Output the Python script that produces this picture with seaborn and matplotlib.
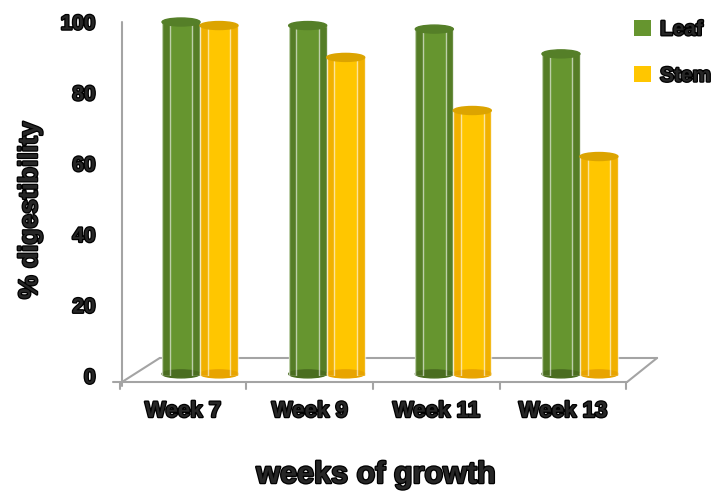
import matplotlib
matplotlib.use("Agg")
import matplotlib.pyplot as plt
import matplotlib.patheffects as pe
import matplotlib.transforms as mtransforms
from matplotlib.patches import Ellipse, Patch
import seaborn as sns
import pandas as pd

categories = ["Week 7", "Week 9", "Week 11", "Week 13"]
leaf = [100, 99, 98, 91]
stem = [99, 90, 75, 62]
series_names = ["Leaf", "Stem"]
y_ticks = [0, 20, 40, 60, 80, 100]

df = pd.DataFrame({
    "week": categories * 2,
    "value": leaf + stem,
    "part": [series_names[0]] * len(categories) + [series_names[1]] * len(categories),
})

sns.set_style("white")
plt.rcParams['font.family'] = ['Liberation Sans', 'DejaVu Sans']

W, H = 721, 492
fig = plt.figure(figsize=(W / 100, H / 100), dpi=100)
ax_l, ax_r, ax_t, ax_b = 122, 640, 22, 376
ax = fig.add_axes([ax_l / W, (H - ax_b) / H, (ax_r - ax_l) / W, (ax_b - ax_t) / H])

palette = {"Leaf": "#66952f", "Stem": "#ffc600"}
edge_dark = {"Leaf": "#4a6d20", "Stem": "#e8a400"}
top_col = {"Leaf": "#557f28", "Stem": "#dca400"}
sns.barplot(data=df, x="week", y="value", hue="part", palette=palette,
            width=0.6, ax=ax, legend=False, saturation=1, edgecolor="none")

ax.set_xlim(-0.616, 3.474)
ax.set_ylim(0, 100)

# cylinder look: darker sides, rounded top and bottom
px_per_unit = (ax_b - ax_t) / 100.0
ell_h = 8 / px_per_unit
names = [series_names[0]] * len(categories) + [series_names[1]] * len(categories)
for p, n in zip(ax.patches[:len(names)], names):
    x0, w, h = p.get_x(), p.get_width(), p.get_height()
    cx = x0 + w / 2
    ax.bar(x0 + w * 0.1, h, width=w * 0.2, color=edge_dark[n], alpha=0.6, zorder=3)
    ax.bar(x0 + w * 0.9, h, width=w * 0.2, color=edge_dark[n], alpha=0.6, zorder=3)
    ax.add_patch(Ellipse((cx, 0.6), w, ell_h, color=edge_dark[n], zorder=2, clip_on=False))
    ax.add_patch(Ellipse((cx, h), w, ell_h, color=top_col[n], zorder=4, clip_on=False))

stroke = [pe.withStroke(linewidth=1.8, foreground="black")]
ax.set_yticks(y_ticks)
ax.set_yticklabels([str(t) for t in y_ticks], fontsize=15, fontweight="bold", path_effects=stroke)
# category labels sit on the front edge of the 3D floor
front_shift = -0.134
ax.set_xticks([i + front_shift for i in range(len(categories))])
ax.set_xticklabels(categories, fontsize=16, fontweight="bold", path_effects=stroke)
ax.tick_params(axis="y", length=4, color="#a0a0a0", pad=15)
ax.tick_params(axis="x", length=0, pad=18)

ax.set_xlabel("weeks of growth", fontsize=22, fontweight="bold", path_effects=stroke)
ax.xaxis.set_label_coords((376 - ax_l) / (ax_r - ax_l), (ax_b - 460) / (ax_b - ax_t))
ax.set_ylabel("% digestibility", fontsize=19, fontweight="bold", path_effects=stroke)
ax.yaxis.label.set_va("center")
ax.yaxis.set_label_coords((30 - ax_l) / (ax_r - ax_l), (ax_b - 210) / (ax_b - ax_t))

for s in ["top", "right", "bottom", "left"]:
    ax.spines[s].set_visible(False)

# 3D-style axis wall / floor outline (decorative)
gray = "#a4a4a4"
kw = dict(color=gray, lw=1.5, transform=ax.transAxes, clip_on=False, zorder=0)
fy, by = -0.017, 0.051
ax.plot([0, 0], [1.0, fy - 0.01], **kw)
ax.plot([-0.017, 0.975], [fy, fy], **kw)
ax.plot([0.073, 1.033], [by, by], **kw)
ax.plot([0, 0.073], [fy, by], **kw)
ax.plot([0.975, 1.033], [fy, by], **kw)
blend = mtransforms.blended_transform_factory(ax.transData, ax.transAxes)
for k in range(len(categories) + 1):
    xk = k + front_shift - 0.5
    ax.plot([xk, xk], [fy, fy - 0.02], color=gray, lw=1.5, transform=blend, clip_on=False, zorder=0)

# legend
handles = [Patch(facecolor=palette[n], edgecolor="none") for n in series_names]
leg = fig.legend(handles, series_names, loc="upper left", bbox_to_anchor=(634 / W, 1 - 20 / H),
                 frameon=False, prop={"size": 15, "weight": "bold"}, borderpad=0, borderaxespad=0,
                 handlelength=0.8, handleheight=0.8, labelspacing=1.3, handletextpad=0.45)
for t in leg.get_texts():
    t.set_path_effects(stroke)

fig.savefig("out.png", dpi=100)
